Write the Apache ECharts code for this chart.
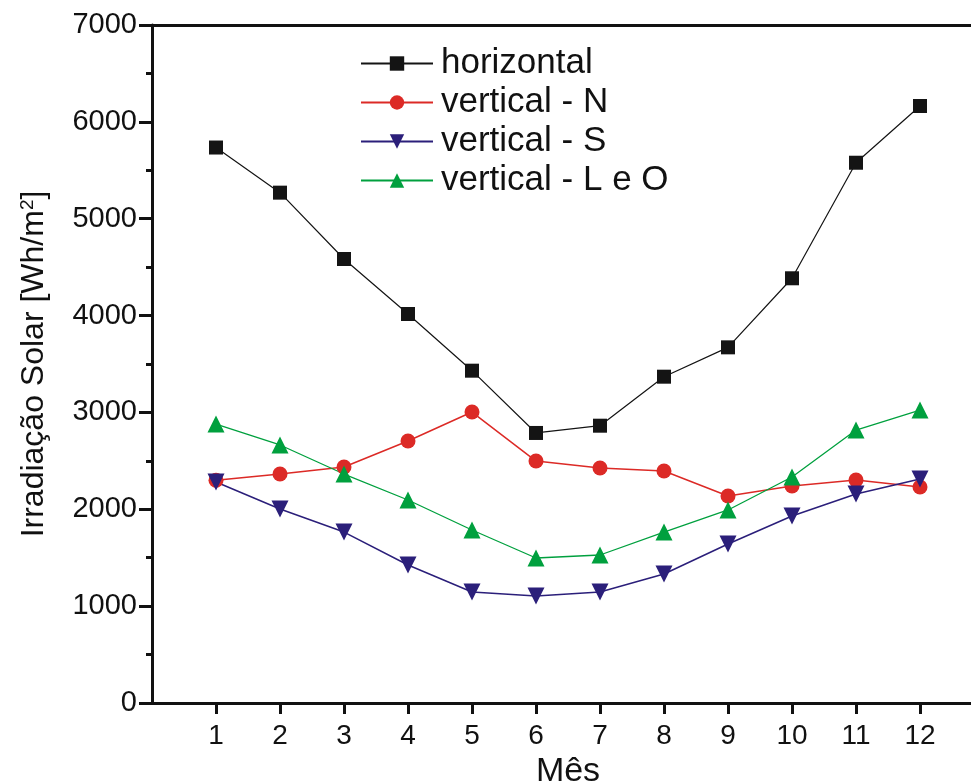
<!DOCTYPE html>
<html>
<head>
<meta charset="utf-8">
<script src="https://cdn.jsdelivr.net/npm/echarts@6/dist/echarts.min.js"></script>
<style>
html,body{margin:0;padding:0;background:#fff;}
#chart{width:971px;height:782px;}
</style>
</head>
<body>
<div id="chart"></div>
<script>
var months = [1, 2, 3, 4, 5, 6, 7, 8, 9, 10, 11, 12];
var horizontal = [5735, 5269, 4584, 4016, 3431, 2788, 2863, 3369, 3672, 4385, 5578, 6164];
var verticalN = [2300, 2364, 2437, 2705, 3004, 2498, 2426, 2395, 2137, 2240, 2302, 2230];
var verticalS = [2282, 2003, 1765, 1425, 1146, 1105, 1146, 1332, 1642, 1931, 2158, 2313];
var verticalLO = [2880, 2664, 2364, 2096, 1786, 1497, 1528, 1765, 1993, 2333, 2818, 3025];

var font = "'Liberation Sans', Arial, sans-serif";
var chart = echarts.init(document.getElementById('chart'));

function pairs(vals){
    var out = [];
    for (var i = 0; i < months.length; i++) out.push([months[i], vals[i]]);
    return out;
}

function makeSeries(name, vals, color, symbol, size, width, rotate){
    return {
        name: name,
        type: 'line',
        data: pairs(vals),
        symbol: symbol,
        symbolSize: size,
        symbolRotate: rotate || 0,
        showAllSymbol: true,
        animation: false,
        lineStyle: {color: color, width: width},
        itemStyle: {color: color}
    };
}

var option = {
    backgroundColor: '#fff',
    textStyle: {fontFamily: font},
    grid: {left: 152, top: 25, width: 832, height: 678, outerBoundsMode: 'none'},
    legend: {
        orient: 'vertical',
        left: 360,
        top: 44,
        padding: 0,
        itemGap: 0,
        itemWidth: 72,
        itemHeight: 18,
        data: ['horizontal', 'vertical - N', 'vertical - S', 'vertical - L e O'],
        textStyle: {fontFamily: font, fontSize: 35, lineHeight: 39, color: '#111', padding: [0, 0, 0, 3]}
    },
    xAxis: [{
        type: 'value',
        min: 0,
        max: 13,
        interval: 1,
        name: 'Mês',
        nameLocation: 'middle',
        nameGap: 48,
        nameTextStyle: {fontFamily: font, fontSize: 34, color: '#111'},
        axisLine: {lineStyle: {color: '#111', width: 3}},
        axisTick: {length: 11, customValues: months, lineStyle: {color: '#111', width: 3}},
        axisLabel: {
            fontFamily: font, fontSize: 28, color: '#111', margin: 19,
            customValues: months,
            formatter: function (v) { return String(v); }
        },
        splitLine: {show: false}
    }, {
        type: 'value',
        position: 'top',
        min: 0,
        max: 13,
        axisLine: {lineStyle: {color: '#111', width: 3}},
        axisTick: {show: false},
        axisLabel: {show: false},
        splitLine: {show: false}
    }],
    yAxis: {
        type: 'value',
        min: 0,
        max: 7000,
        interval: 1000,
        name: 'Irradiação Solar [Wh/m{sup|2}]',
        nameLocation: 'middle',
        nameRotate: 90,
        nameGap: 102,
        nameTextStyle: {
            fontFamily: font, fontSize: 32, color: '#111',
            rich: {sup: {fontFamily: font, fontSize: 19, color: '#111', verticalAlign: 'top'}}
        },
        axisLine: {show: true, lineStyle: {color: '#111', width: 3}},
        axisTick: {show: true, length: 13, lineStyle: {color: '#111', width: 3}},
        minorTick: {show: true, splitNumber: 2, length: 6, lineStyle: {color: '#111', width: 3}},
        axisLabel: {
            fontFamily: font, fontSize: 29, color: '#111', margin: 15,
            formatter: function (v) { return String(v); }
        },
        splitLine: {show: false}
    },
    series: [
        makeSeries('horizontal', horizontal, '#141414', 'rect', 14, 1.2),
        makeSeries('vertical - N', verticalN, '#dc2a26', 'circle', 15, 1.5),
        makeSeries('vertical - S', verticalS, '#2b1f7a', 'triangle', 17, 1.5, 180),
        makeSeries('vertical - L e O', verticalLO, '#00a03e', 'triangle', 17, 1.3)
    ]
};
chart.setOption(option);
</script>
</body>
</html>
